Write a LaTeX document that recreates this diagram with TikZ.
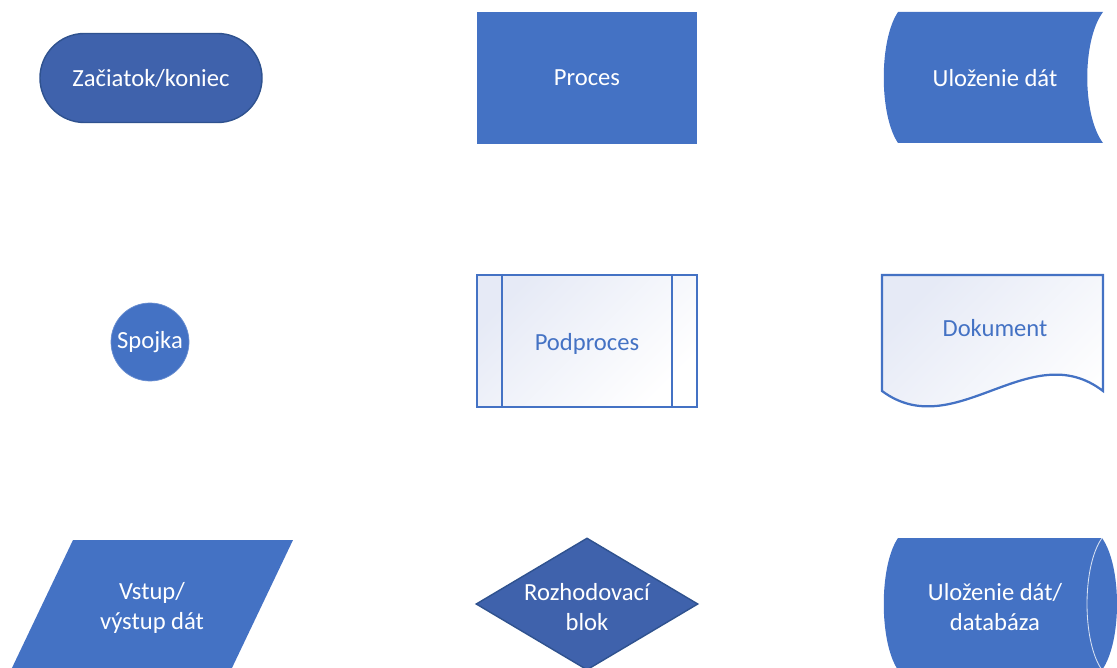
\documentclass[tikz,border=0pt]{standalone}
\usepackage{fontspec}
\setmainfont{Carlito}
\usetikzlibrary{shapes.geometric,shapes.misc}
\definecolor{blk}{RGB}{68,114,196}
\definecolor{blkdark}{RGB}{63,98,172}
\definecolor{blkline}{RGB}{47,82,143}
\definecolor{blklight}{RGB}{230,234,246}

\begin{document}
\begin{tikzpicture}[x=0.025cm,y=-0.025cm,
  lbl/.style={font=\fontsize{17.5}{21}\selectfont,text=white,align=center,inner sep=0pt},
  lightbox/.style={draw=blk,line width=1.6pt,top color=blklight,bottom color=white,shading angle=45}]
\useasboundingbox (0,0) rectangle (1117,668);
\clip (0,0) rectangle (1117,668);

\node[rounded rectangle,fill=blkdark,draw=blkline,line width=1pt,minimum width=5.55cm,minimum height=2.225cm,lbl] (start) at (151,78){Začiatok/koniec};
\node[rectangle,fill=blk,minimum width=5.5cm,minimum height=3.275cm,lbl] (proc) at (587,78){Proces};
\fill[blk] (898,12) -- (1103,12) .. controls (1082,40) and (1082,115) .. (1103,143) -- (898,143) .. controls (879,115) and (879,40) .. (898,12) -- cycle;
\node[lbl] (store) at (995,78){Uloženie dát};

\node[circle,fill=blk,draw=blk!80!white,line width=0.5pt,minimum size=1.95cm,lbl] (conn) at (150,342){Spojka};
\node[rectangle,lightbox,minimum width=5.5cm,minimum height=3.3cm] (sub) at (587,341){};
\node[lbl,text=blk] (subtext) at (587,344){Podproces};
\draw[blk,line width=1.6pt] ([xshift=0.65cm]sub.north west) -- ([xshift=0.65cm]sub.south west);
\draw[blk,line width=1.6pt] ([xshift=-0.65cm]sub.north east) -- ([xshift=-0.65cm]sub.south east);
\shade[lightbox] (882,275) -- (1103,275) -- (1103,391) .. controls (1030,335) and (955,445) .. (882,391) -- cycle;
\node[lbl,text=blk] (doc) at (995,328){Dokument};

\fill[blk] (11,670) -- (73,540) -- (293,540) -- (231,670) -- cycle;
\node[lbl] (io) at (152,608){Vstup/\\výstup dát};
\node[diamond,fill=blkdark,draw=blkline,line width=1pt,minimum width=5.55cm,minimum height=3.3cm,shape aspect=1.68] (dec) at (587,604){};
\node[lbl] (dectext) at (587,607){Rozhodovací\\blok};
\fill[blk] (898,538) -- (1102,538) .. controls (1122,566) and (1122,642) .. (1102,670) -- (898,670) .. controls (879,642) and (879,566) .. (898,538) -- cycle;
\draw[white!80!blk,line width=0.6pt] (1102,538) .. controls (1082,566) and (1082,642) .. (1102,670);
\node[lbl] (db) at (995,607){Uloženie dát/\\databáza};
\end{tikzpicture}
\end{document}
